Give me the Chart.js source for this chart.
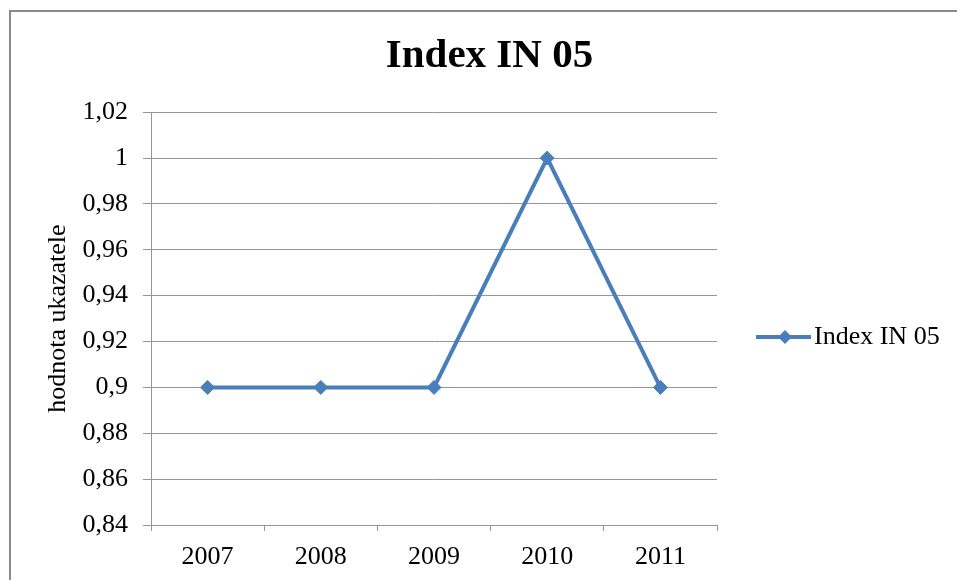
<!DOCTYPE html>
<html>
<head>
<meta charset="utf-8">
<script src="https://cdn.jsdelivr.net/npm/chart.js@4/dist/chart.umd.min.js"></script>
<style>
  html, body { margin: 0; padding: 0; background: #fff; }
  #wrap { width: 957px; height: 580px; }
</style>
</head>
<body>
<div id="wrap"><canvas id="chart"></canvas></div>
<script>
const years = ["2007", "2008", "2009", "2010", "2011"];
const indexValues = [0.9, 0.9, 0.9, 1.0, 0.9];
const seriesName = "Index IN 05";
const chartTitle = "Index IN 05";
const yTitle = "hodnota ukazatele";

const blue = "#4A7EBB";
const gridGray = "#959595";
const serif = "'Liberation Serif', 'Times New Roman', serif";

// outer frame around the chart (Excel style)
const framePlugin = {
    id: "frame",
    beforeDraw(chart) {
        const ctx = chart.ctx;
        ctx.save();
        ctx.fillStyle = "#fff";
        ctx.fillRect(0, 0, chart.width, chart.height);
        ctx.strokeStyle = "#8a8a8a";
        ctx.lineWidth = 2;
        ctx.strokeRect(10, 11, chart.width + 20, chart.height + 20);
        ctx.restore();
    }
};

// legend: line with diamond marker, then label
const legendPlugin = {
    id: "lineLegend",
    afterDraw(chart) {
        const ctx = chart.ctx;
        const ds = chart.data.datasets[0];
        const y = 337;
        ctx.save();
        ctx.strokeStyle = ds.borderColor;
        ctx.lineWidth = 4;
        ctx.beginPath();
        ctx.moveTo(756, y);
        ctx.lineTo(811, y);
        ctx.stroke();
        ctx.fillStyle = ds.borderColor;
        ctx.beginPath();
        ctx.moveTo(785, y - 7);
        ctx.lineTo(792, y);
        ctx.lineTo(785, y + 7);
        ctx.lineTo(778, y);
        ctx.closePath();
        ctx.fill();
        ctx.fillStyle = "#000";
        ctx.font = "26px " + serif;
        ctx.textBaseline = "middle";
        ctx.fillText(ds.label, 814, y);
        ctx.restore();
    }
};

new Chart(document.getElementById("chart"), {
    type: "line",
    data: {
        labels: years,
        datasets: [{
            label: seriesName,
            data: indexValues,
            borderColor: blue,
            backgroundColor: blue,
            borderWidth: 4,
            tension: 0,
            pointStyle: "rectRot",
            pointRadius: 7,
            pointHoverRadius: 7,
            pointBackgroundColor: blue,
            pointBorderColor: blue,
            pointBorderWidth: 1
        }]
    },
    options: {
        responsive: true,
        maintainAspectRatio: false,
        animation: false,
        layout: { padding: { left: 22, right: 0, top: 0, bottom: 0 } },
        plugins: {
            legend: { display: false },
            tooltip: { enabled: false },
            title: {
                display: true,
                text: chartTitle,
                color: "#000",
                font: { family: serif, size: 41, weight: "bold" },
                padding: { top: 32, bottom: 31 }
            }
        },
        scales: {
            x: {
                offset: true,
                grid: { display: true, offset: true, drawOnChartArea: false, color: gridGray, tickLength: 6 },
                border: { color: gridGray, width: 1 },
                ticks: { color: "#000", font: { family: serif, size: 26 }, padding: 11 },
                afterFit(scale) { scale.height = 55; }
            },
            y: {
                min: 0.84,
                max: 1.02,
                grid: { color: gridGray, tickLength: 8 },
                border: { color: gridGray, width: 1 },
                ticks: {
                    stepSize: 0.02,
                    color: "#000",
                    padding: 15,
                    font: { family: serif, size: 26 },
                    callback: (v) => String(Number(v.toFixed(2))).replace(".", ",")
                },
                title: {
                    display: true,
                    text: yTitle,
                    color: "#000",
                    font: { family: serif, size: 26 },
                    padding: { top: 21, bottom: 0 }
                },
                afterFit(scale) { scale.width = 129; }
            },
            legendSpace: {
                type: "linear",
                position: "right",
                display: true,
                grid: { display: false },
                border: { display: false },
                ticks: { display: false },
                afterFit(scale) { scale.width = 240; }
            }
        }
    },
    plugins: [framePlugin, legendPlugin]
});
</script>
</body>
</html>
